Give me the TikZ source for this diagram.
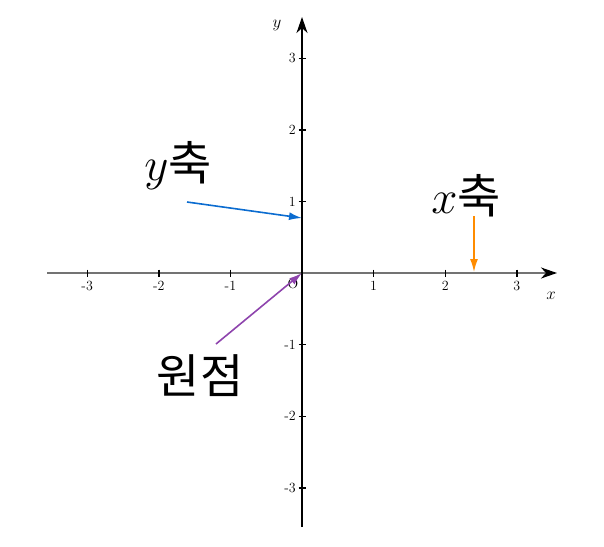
\RequirePackage{fix-cm}
\documentclass[tikz,border=0pt]{standalone}
\usepackage{fontspec}
\newfontfamily\kr{Noto Sans CJK KR}
\usetikzlibrary{arrows.meta,calc}
\definecolor{cblue}{HTML}{0B6CD0}
\definecolor{corange}{HTML}{FF8C00}
\definecolor{cpurple}{HTML}{8E44AD}
\tikzset{
  axisx/.style={draw=black!55,line width=1.8pt},
  axisy/.style={draw=black,line width=2pt},
  axtip/.style={-{Stealth[length=16pt,width=11pt,inset=5pt]}},
  tick/.style={line width=1.4pt},
  ticklbl/.style={font=\fontsize{14}{16}\selectfont,inner sep=0pt},
  ptr/.style={line width=1.6pt,-{Latex[length=13pt,width=8pt]}},
  big/.style={font=\fontsize{47}{56}\selectfont,inner sep=0pt},
}
\begin{document}
\begin{tikzpicture}[x=1pt,y=-1pt]
\useasboundingbox (0,0) rectangle (604,546);
\def\u{71.6}
\coordinate (O) at (302,273);
\coordinate (xs) at (47,273);
\coordinate (xe) at (557,273);
\coordinate (ys) at (302,527);
\coordinate (ye) at (302,17);
\draw[axisx,-{Stealth[length=16pt,width=11pt,inset=5pt,black]}] (xs) -- (xe);
\draw[axisy,axtip] (ys) -- (ye);
\foreach \i in {-3,-2,-1,1,2,3}{
  \draw[tick] ($(O)+(\i*\u,-3.5)$) -- ($(O)+(\i*\u,3.5)$);
  \draw[tick] ($(O)+(-3.5,-\i*\u)$) -- ($(O)+(3.5,-\i*\u)$);
  \node[ticklbl] (xl\i) at ($(O)+(\i*\u,13)$) {\i};
  \node[ticklbl,anchor=east] (yl\i) at ($(O)+(-6,-\i*\u)$) {\i};
}
\node[ticklbl] (olbl) at (293,284) {O};
\node[font=\fontsize{17}{19}\selectfont] (ylbl) at (277,25) {$y$};
\node[font=\fontsize{17}{19}\selectfont] (xlbl) at (551,296) {$x$};
% labels
\node[big] (ytxt) at (178,166) {$y${\kr 축}};
\node[big] (xtxt) at (466,196) {$x${\kr 축}};
\node[big] (otxt) at (200,376) {\kr 원점};
% pointers
\coordinate (b1) at (187,202);
\coordinate (b2) at (302,218);
\coordinate (o1) at (474,216);
\coordinate (o2) at (474,272);
\coordinate (p1) at (216,344);
\draw[ptr,cblue] (b1) -- (b2);
\draw[ptr,corange] (o1) -- (o2);
\draw[ptr,cpurple] (p1) -- (O);
\end{tikzpicture}
\end{document}
